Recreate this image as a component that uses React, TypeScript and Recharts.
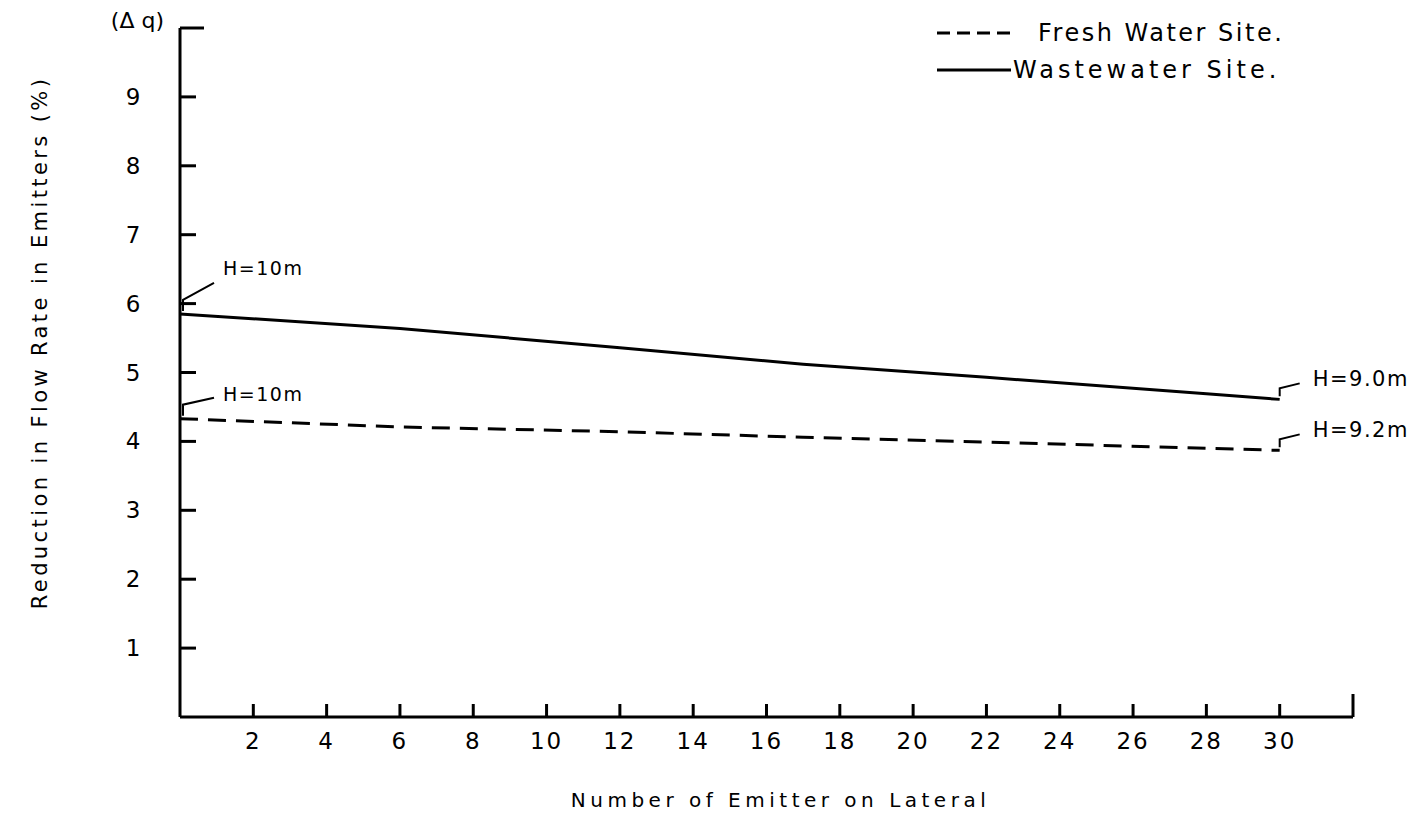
import { LineChart, Line, XAxis, YAxis } from "recharts";

// emitter number along the lateral and reduction in flow rate (%)
const emitters = [0, 6, 12, 17, 22, 28, 30];
const wastewater = [5.85, 5.64, 5.36, 5.12, 4.93, 4.69, 4.61];
const freshWater = [4.33, 4.21, 4.14, 4.06, 3.99, 3.9, 3.87];

const xTicks = [2, 4, 6, 8, 10, 12, 14, 16, 18, 20, 22, 24, 26, 28, 30, 32];
const yTicks = [1, 2, 3, 4, 5, 6, 7, 8, 9, 10];
const yTopLabel = "(Δ q)";

const seriesNames = ["Fresh Water Site.", "Wastewater Site."];
const freshNotes = ["H=10m", "H=9.2m"];
const wasteNotes = ["H=10m", "H=9.0m"];

const FONT = "'DejaVu Sans', sans-serif";

const data = emitters.map((n, i) => ({
    n,
    fresh: freshWater[i],
    waste: wastewater[i],
}));

function XTick({ x, y, payload }: any) {
    const v = payload.value;
    const last = v === xTicks[xTicks.length - 1];
    return (
        <g>
            <line x1={x} y1={y} x2={x} y2={y - (last ? 23 : 13)} stroke="#000" strokeWidth={3} />
            {!last && (
                <text x={x} y={y + 32} textAnchor="middle" fontSize={23} fontFamily={FONT} letterSpacing={2}>
                    {v}
                </text>
            )}
        </g>
    );
}

function YTick({ x, y, payload }: any) {
    const v = payload.value;
    const top = v === yTicks[yTicks.length - 1];
    return (
        <g>
            <line x1={x} y1={y} x2={x + (top ? 24 : 16)} y2={y} stroke="#000" strokeWidth={3} />
            {top ? (
                <text x={x - 16} y={y} textAnchor="end" fontSize={22} fontFamily={FONT}>
                    {yTopLabel}
                </text>
            ) : (
                <text x={x - 47} y={y + 8} textAnchor="middle" fontSize={23} fontFamily={FONT}>
                    {v}
                </text>
            )}
        </g>
    );
}

// leader + "H=" note at the first and last point of a line
type Leader = { up: number; dx: number; dy: number; tx: number; ty: number; fs: number };
const startLeader = (dy: number, ty: number): Leader => ({ up: 14, dx: 34, dy, tx: 43, ty, fs: 19 });
const endLeader: Leader = { up: 11, dx: 20, dy: 16, tx: 33, ty: 20, fs: 21 };

function makeNote(texts: string[], first: Leader) {
    return (props: any) => {
        const { x, y, index } = props;
        let text: string | null = null;
        let l = first;
        if (index === 0) text = texts[0];
        if (index === emitters.length - 1) {
            text = texts[1];
            l = endLeader;
        }
        if (text == null) return null;
        const sx = index === 0 ? x + 3 : x;
        return (
            <g>
                <path
                    d={`M${sx},${y - 3} V${y - l.up} L${x + l.dx},${y - l.dy}`}
                    fill="none"
                    stroke="#000"
                    strokeWidth={2}
                />
                <text x={x + l.tx} y={y - l.ty + 7} fontSize={l.fs} fontFamily={FONT} letterSpacing={1.5}>
                    {text}
                </text>
            </g>
        );
    };
}

const legendRows = [
    { name: seriesNames[0], dash: "13 7", gap: 27, spacing: 2.5 },
    { name: seriesNames[1], dash: undefined, gap: 2, spacing: 4 },
];

export default function App() {
    return (
        <div style={{ position: "absolute", left: 0, top: 0, width: 1417, height: 831, background: "#fff" }}>
            <LineChart
                width={1417}
                height={831}
                data={data}
                margin={{ top: 28, right: 64, bottom: 84, left: 140 }}
            >
                <XAxis
                    dataKey="n"
                    type="number"
                    domain={[0, 32]}
                    ticks={xTicks}
                    interval={0}
                    height={30}
                    tickSize={0}
                    tickMargin={0}
                    tick={<XTick />}
                    axisLine={{ stroke: "#000", strokeWidth: 3 }}
                    label={{
                        content: ({ viewBox }: any) => (
                            <text
                                x={viewBox.x + viewBox.width / 2 + 14}
                                y={viewBox.y + 90}
                                textAnchor="middle"
                                fontSize={20}
                                fontFamily={FONT}
                                letterSpacing={4.5}
                            >
                                Number of Emitter on Lateral
                            </text>
                        ),
                    }}
                />
                <YAxis
                    type="number"
                    domain={[0, 10]}
                    ticks={yTicks}
                    interval={0}
                    width={40}
                    tickSize={0}
                    tickMargin={0}
                    tick={<YTick />}
                    axisLine={{ stroke: "#000", strokeWidth: 3 }}
                    label={{
                        content: ({ viewBox }: any) => {
                            const cx = 40;
                            const cy = viewBox.y + viewBox.height / 2 - 30;
                            return (
                                <text
                                    x={cx}
                                    y={cy}
                                    transform={`rotate(-90 ${cx} ${cy})`}
                                    textAnchor="middle"
                                    dominantBaseline="central"
                                    fontSize={21}
                                    fontFamily={FONT}
                                    letterSpacing={3.4}
                                >
                                    Reduction in Flow Rate in Emitters (%)
                                </text>
                            );
                        },
                    }}
                />
                <Line
                    dataKey="fresh"
                    name={seriesNames[0]}
                    type="linear"
                    stroke="#000"
                    strokeWidth={3}
                    strokeDasharray="18 10"
                    dot={false}
                    isAnimationActive={false}
                    label={makeNote(freshNotes, startLeader(21, 25))}
                />
                <Line
                    dataKey="waste"
                    name={seriesNames[1]}
                    type="linear"
                    stroke="#000"
                    strokeWidth={3}
                    dot={false}
                    isAnimationActive={false}
                    label={makeNote(wasteNotes, startLeader(31, 46))}
                />
            </LineChart>

            {/* legend */}
            <div style={{ position: "absolute", left: 937, top: 14, fontFamily: FONT }}>
                {legendRows.map((r) => (
                    <div key={r.name} style={{ display: "flex", alignItems: "center", height: 37 }}>
                        <svg width={74} height={10}>
                            <line x1={0} y1={5} x2={74} y2={5} stroke="#000" strokeWidth={3} strokeDasharray={r.dash} />
                        </svg>
                        <span style={{ marginLeft: r.gap, fontSize: 24, letterSpacing: r.spacing, lineHeight: 1 }}>
                            {r.name}
                        </span>
                    </div>
                ))}
            </div>
        </div>
    );
}
